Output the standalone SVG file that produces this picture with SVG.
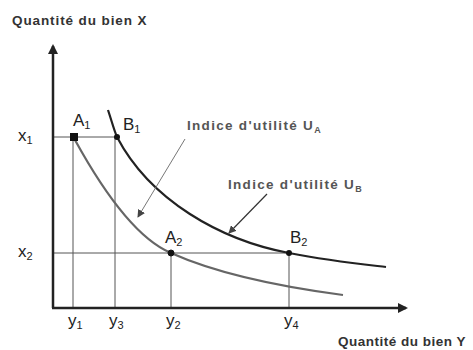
<svg xmlns="http://www.w3.org/2000/svg" width="473" height="350" viewBox="0 0 473 350">
<defs>
<style>
text{font-family:"Liberation Sans",Arial,sans-serif;fill:#222}
.ax{font-size:13.5px;font-weight:bold;fill:#333;letter-spacing:0.9px}
.lb{font-size:17px}
.sb{font-size:11px}
.ind{font-size:13.5px;font-weight:bold;fill:#555;letter-spacing:1.3px}
.isb{font-size:9px}
.grid{stroke:#555;stroke-width:1;fill:none}
.axis{stroke:#222;stroke-width:2.5;fill:none}
</style>
<marker id="ah" markerWidth="10" markerHeight="10" refX="8" refY="5" orient="auto" markerUnits="userSpaceOnUse">
<path d="M0,0 L10,5 L0,10 Z" fill="#222"/>
</marker>
<marker id="sa" markerWidth="8" markerHeight="8" refX="7" refY="4" orient="auto" markerUnits="userSpaceOnUse">
<path d="M0,0 L8,4 L0,8 Z" fill="#444"/>
</marker>
</defs>
<rect width="473" height="350" fill="#fff"/>
<g id="connectors">
<line class="grid" x1="53" y1="137" x2="117" y2="137"/>
<line class="grid" x1="53" y1="253" x2="289" y2="253"/>
<line class="grid" x1="73" y1="137" x2="73" y2="308"/>
<line class="grid" x1="115" y1="137" x2="115" y2="308"/>
<line class="grid" x1="171" y1="253" x2="171" y2="308"/>
<line class="grid" x1="289" y1="253" x2="289" y2="308"/>
<path d="M75,140 C108,200 140,240 171,253 C220,275 290,288 343,295" fill="none" stroke="#666" stroke-width="2.2"/>
<path d="M108,110 C112,122 114,130 117,137 C150,200 220,240 289,253 C330,261 360,264 386,267" fill="none" stroke="#222" stroke-width="2.2"/>
<line x1="185" y1="139" x2="138" y2="217" stroke="#777" stroke-width="1" marker-end="url(#sa)"/>
<line x1="267" y1="194" x2="229" y2="233" stroke="#333" stroke-width="1.2" marker-end="url(#sa)"/>
<line class="axis" x1="53" y1="308" x2="53" y2="46" marker-end="url(#ah)"/>
<line class="axis" x1="52" y1="308" x2="406" y2="308" marker-end="url(#ah)"/>
</g>
<g id="A1"><rect x="70" y="133" width="8" height="8" fill="#111"/><text class="lb" x="73" y="126">A<tspan class="sb" dy="3">1</tspan></text></g>
<g id="B1"><circle cx="117" cy="137" r="3" fill="#111"/><text class="lb" x="123" y="130">B<tspan class="sb" dy="3">1</tspan></text></g>
<g id="A2"><circle cx="171" cy="253" r="3" fill="#111" stroke="#111"/><text class="lb" x="165" y="243">A<tspan class="sb" dy="3">2</tspan></text></g>
<g id="B2"><circle cx="289" cy="253" r="3" fill="#111"/><text class="lb" x="290" y="243">B<tspan class="sb" dy="3">2</tspan></text></g>
<g id="labels">
<text class="ax" x="12" y="25">Quantité du bien X</text>
<text class="ax" x="338" y="346" style="letter-spacing:0.5px">Quantité du bien Y</text>
<text class="lb" x="18" y="141">x<tspan class="sb" dy="3">1</tspan></text>
<text class="lb" x="18" y="257">x<tspan class="sb" dy="3">2</tspan></text>
<text class="lb" x="68" y="326">y<tspan class="sb" dy="3">1</tspan></text>
<text class="lb" x="109" y="326">y<tspan class="sb" dy="3">3</tspan></text>
<text class="lb" x="166" y="326">y<tspan class="sb" dy="3">2</tspan></text>
<text class="lb" x="284" y="326">y<tspan class="sb" dy="3">4</tspan></text>
<text class="ind" x="187" y="130">Indice d'utilité U<tspan class="isb" dy="3">A</tspan></text>
<text class="ind" x="228" y="189">Indice d'utilité U<tspan class="isb" dy="3">B</tspan></text>
</g>
</svg>
